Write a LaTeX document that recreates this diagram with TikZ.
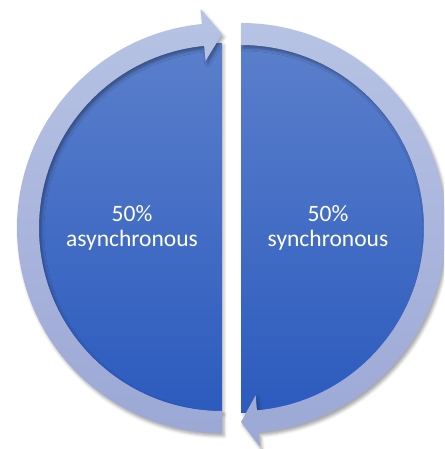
\documentclass[tikz,border=0pt]{standalone}
\usepackage{fontspec}
\setmainfont{Carlito}
\usetikzlibrary{shadows.blur}

\definecolor{discTop}{HTML}{5A7FCB}
\definecolor{discBot}{HTML}{2C5BBE}
\definecolor{bandTop}{HTML}{B7C3E4}
\definecolor{bandBot}{HTML}{9CA8D5}

\begin{document}
\begin{tikzpicture}[x=1pt, y=1pt,
      half/.style={top color=discTop, bottom color=discBot,
        blur shadow={shadow xshift=2pt, shadow yshift=-2pt,
        shadow blur radius=3pt, shadow opacity=25}},
      band/.style={top color=bandTop, bottom color=bandBot,
        blur shadow={shadow xshift=2pt, shadow yshift=-3pt,
        shadow blur radius=3pt, shadow opacity=35}},
      lbl/.style={align=center, text=white, font=\fontsize{23.5}{25}\selectfont}
    ]
    \path[use as bounding box, clip] (0,0) rectangle (444,449);
    \coordinate (lc) at (222,221);
    \coordinate (rc) at (241,221);
    % === Half discs ===
    \begin{scope}[shift={(lc)}]
      \path[half] (90:185pt) arc[start angle=90, end angle=270, radius=185pt]
        -- cycle;
    \end{scope}
    \begin{scope}[shift={(rc)}]
      \path[half] (90:185pt) arc[start angle=90, end angle=-90, radius=185pt]
        -- cycle;
    \end{scope}
    % === Curved arrows ===
    % left: bottom -> up round the left side, tip at the top
    \begin{scope}[shift={(lc)}]
      \path[band] (270:183pt) arc[start angle=270, end angle=95.6, radius=183pt]
        -- (95.6:168pt) -- (90:194pt) -- (95.6:220pt) -- (95.6:205pt)
        arc[start angle=95.6, end angle=270, radius=205pt] -- cycle;
    \end{scope}
    % right: top -> down round the right side, tip at the bottom
    \begin{scope}[shift={(rc)}]
      \path[band] (90:183pt) arc[start angle=90, end angle=-85, radius=183pt]
        -- (-85:168pt) -- (-90:194pt) -- (-85:220pt) -- (-85:205pt)
        arc[start angle=-85, end angle=90, radius=205pt] -- cycle;
    \end{scope}
    % === Labels ===
    \node[lbl] (asyncText) at (132,221) {50\%\\asynchronous};
    \node[lbl] (syncText) at (328,221) {50\%\\synchronous};
  \end{tikzpicture}
\end{document}
